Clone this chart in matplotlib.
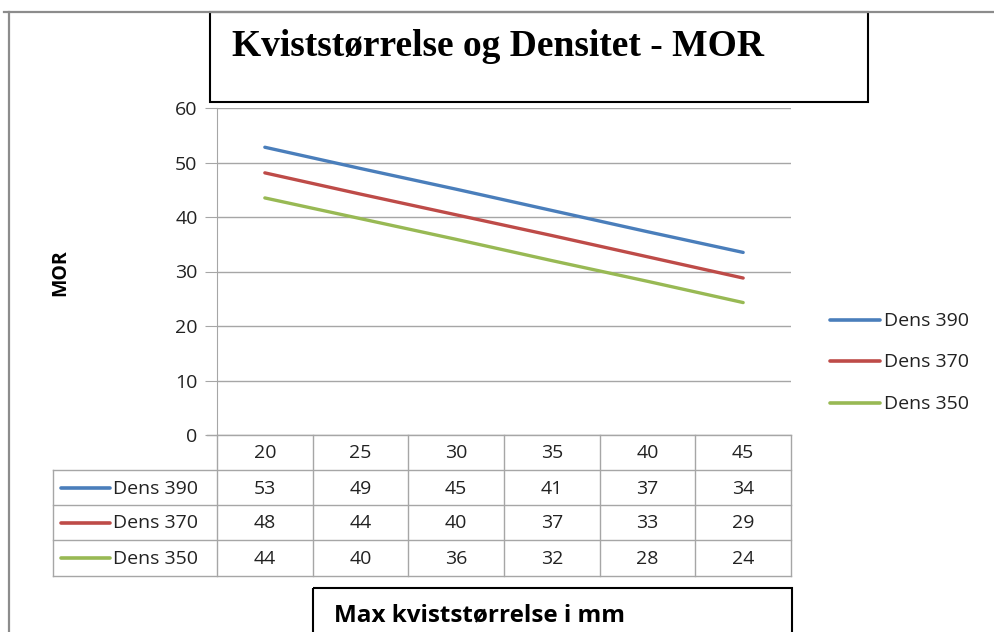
import numpy as np
import matplotlib
matplotlib.use("Agg")
import matplotlib.pyplot as plt
from matplotlib.patches import Rectangle

# ---- data ----
categories = [20, 25, 30, 35, 40, 45]
series_names = ["Dens 390", "Dens 370", "Dens 350"]
dens_390 = [52.8, 48.9, 45.1, 41.2, 37.3, 33.5]
dens_370 = [48.1, 44.2, 40.4, 36.6, 32.7, 28.8]
dens_350 = [43.5, 39.7, 35.9, 32.0, 28.2, 24.3]
y_ticks = [0, 10, 20, 30, 40, 50, 60]
title = "Kviststørrelse og Densitet - MOR"
x_title = "Max kviststørrelse i mm"
y_title = "MOR"

series = [dens_390, dens_370, dens_350]
colors = ["#4A7EBB", "#BE4B48", "#98B954"]

W, H = 995, 632
fig = plt.figure(figsize=(W / 100, H / 100), dpi=100)
fig.patch.set_facecolor("white")

SANS = ["Open Sans", "DejaVu Sans"]
SERIF = ["Liberation Serif", "DejaVu Serif"]
GRID = "#a6a6a6"
TXT = "#222222"
FS = 14

# overlay axes in pixel coordinates (y downward)
ov = fig.add_axes([0, 0, 1, 1], zorder=0)
ov.set_xlim(0, W)
ov.set_ylim(H, 0)
ov.axis("off")

# plot area
L, R, T, B = 217, 791, 108, 435
ax = fig.add_axes([L / W, 1 - B / H, (R - L) / W, (B - T) / H], zorder=2)
ax.set_facecolor("none")
x = np.arange(len(categories))
for vals, c, n in zip(series, colors, series_names):
    ax.plot(x, vals, color=c, lw=2.4, solid_capstyle="round", label=n)
ax.set_xlim(-0.5, len(categories) - 0.5)
ax.set_ylim(0, 60)
ax.set_yticks(y_ticks)
ax.set_yticklabels([str(v) for v in y_ticks], fontfamily=SANS, fontsize=FS, color=TXT)
ax.set_xticks([])
ax.yaxis.grid(True, color=GRID, lw=1)
ax.set_axisbelow(True)
for s in ["top", "right", "bottom"]:
    ax.spines[s].set_visible(False)
ax.spines["left"].set_color(GRID)
ax.tick_params(axis="y", length=9, color=GRID, pad=5)

# outer chart border (partially visible)
ov.plot([4, W], [12, 12], color="#8c8c8c", lw=1.6)
ov.plot([9, 9], [12, H], color="#8c8c8c", lw=1.6)

# title box
ov.add_patch(Rectangle((210, 12), 868 - 210, 102 - 12, fill=False, ec="black", lw=1.5))
ov.text(232, 46, title, fontfamily=SERIF, fontweight="bold", fontsize=27,
        ha="left", va="center", color="black")

# y title
ov.text(60, 273, y_title, fontfamily=SANS, fontweight="bold", fontsize=14,
        rotation=90, ha="center", va="center")

# data table
ncol = len(categories)
colw = (R - L) / ncol
row_y = [435, 470, 505, 540, 576]
TL = 53
ov.plot([207, R], [row_y[0], row_y[0]], color=GRID, lw=1)
for yy in row_y[1:]:
    ov.plot([TL, R], [yy, yy], color=GRID, lw=1)
ov.plot([TL, TL], [row_y[1], row_y[-1]], color=GRID, lw=1)
for i in range(ncol + 1):
    xx = L + i * colw
    ov.plot([xx, xx], [row_y[0], row_y[-1]], color=GRID, lw=1)
for i, c in enumerate(categories):
    ov.text(L + (i + 0.5) * colw, (row_y[0] + row_y[1]) / 2 + 1, str(c),
            fontfamily=SANS, fontsize=FS, ha="center", va="center", color=TXT)
for r, (vals, c, n) in enumerate(zip(series, colors, series_names)):
    cy = (row_y[r + 1] + row_y[r + 2]) / 2
    ov.plot([61, 110], [cy, cy], color=c, lw=2.6, solid_capstyle="round")
    ov.text(113, cy + 1, n, fontfamily=SANS, fontsize=FS, ha="left", va="center", color=TXT)
    for i, v in enumerate(vals):
        ov.text(L + (i + 0.5) * colw, cy + 1, str(int(np.floor(v + 0.5))),
                fontfamily=SANS, fontsize=FS, ha="center", va="center", color=TXT)

# right legend
leg_y = [320, 361, 403]
for yy, c, n in zip(leg_y, colors, series_names):
    ov.plot([830, 880], [yy, yy], color=c, lw=2.6, solid_capstyle="round")
    ov.text(884, yy + 1, n, fontfamily=SANS, fontsize=FS, ha="left", va="center", color=TXT)

# x title box
ov.add_patch(Rectangle((313, 588), R + 1 - 313, 60, fill=False, ec="black", lw=1.5))
ov.text(334, 615, x_title, fontfamily=SANS, fontweight="bold", fontsize=17.5,
        ha="left", va="center", color="black")

fig.savefig("out.png", dpi=100)
